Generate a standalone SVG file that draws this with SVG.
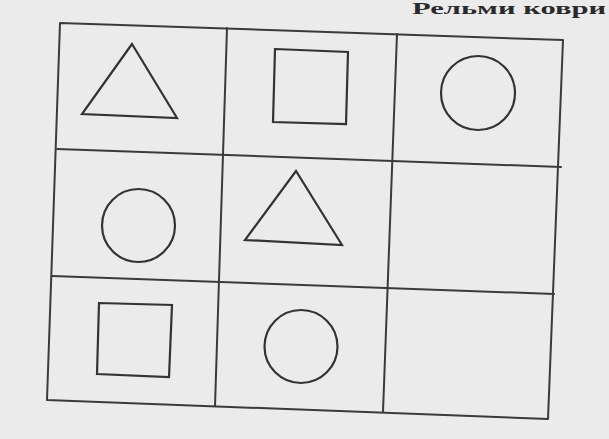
<svg xmlns="http://www.w3.org/2000/svg" width="609" height="439" viewBox="0 0 609 439">
  <defs>
    <style>
      .ln { stroke: #3a3a3a; stroke-width: 2; fill: none; stroke-linecap: round; stroke-linejoin: round; }
      .sh { stroke: #333333; stroke-width: 2.2; fill: none; stroke-linejoin: miter; }
      .hd { font-family: "Liberation Serif", "DejaVu Serif", serif; font-weight: bold; font-size: 17px; fill: #2a2a2a; }
    </style>
  </defs>
  <rect x="0" y="0" width="609" height="439" fill="#ebebeb"/>
  <text class="hd" x="412" y="14" textLength="194" lengthAdjust="spacingAndGlyphs">Рельми коври</text>
  <g id="grid">
    <polygon class="ln" points="60,23 563,40 548,419 47,400"/>
    <line class="ln" x1="227" y1="28" x2="215" y2="406"/>
    <line class="ln" x1="397" y1="34" x2="383" y2="412"/>
    <line class="ln" x1="57" y1="149" x2="561" y2="167"/>
    <line class="ln" x1="52" y1="276" x2="554" y2="294"/>
  </g>
  <g id="triangle1"><polygon class="sh" points="132,44 82,114 177,118"/></g>
  <g id="square1"><polygon class="sh" points="275,49 348,52 346,124 273,122"/></g>
  <g id="circle1"><circle class="sh" cx="478" cy="93" r="37"/></g>
  <g id="circle2"><circle class="sh" cx="138.5" cy="225.5" r="36.5"/></g>
  <g id="triangle2"><polygon class="sh" points="296,171 245,240 342,245"/></g>
  <g id="square2"><polygon class="sh" points="99,303 172,305 169,377 97,374"/></g>
  <g id="circle3"><circle class="sh" cx="301" cy="346.5" r="36.5"/></g>
</svg>
